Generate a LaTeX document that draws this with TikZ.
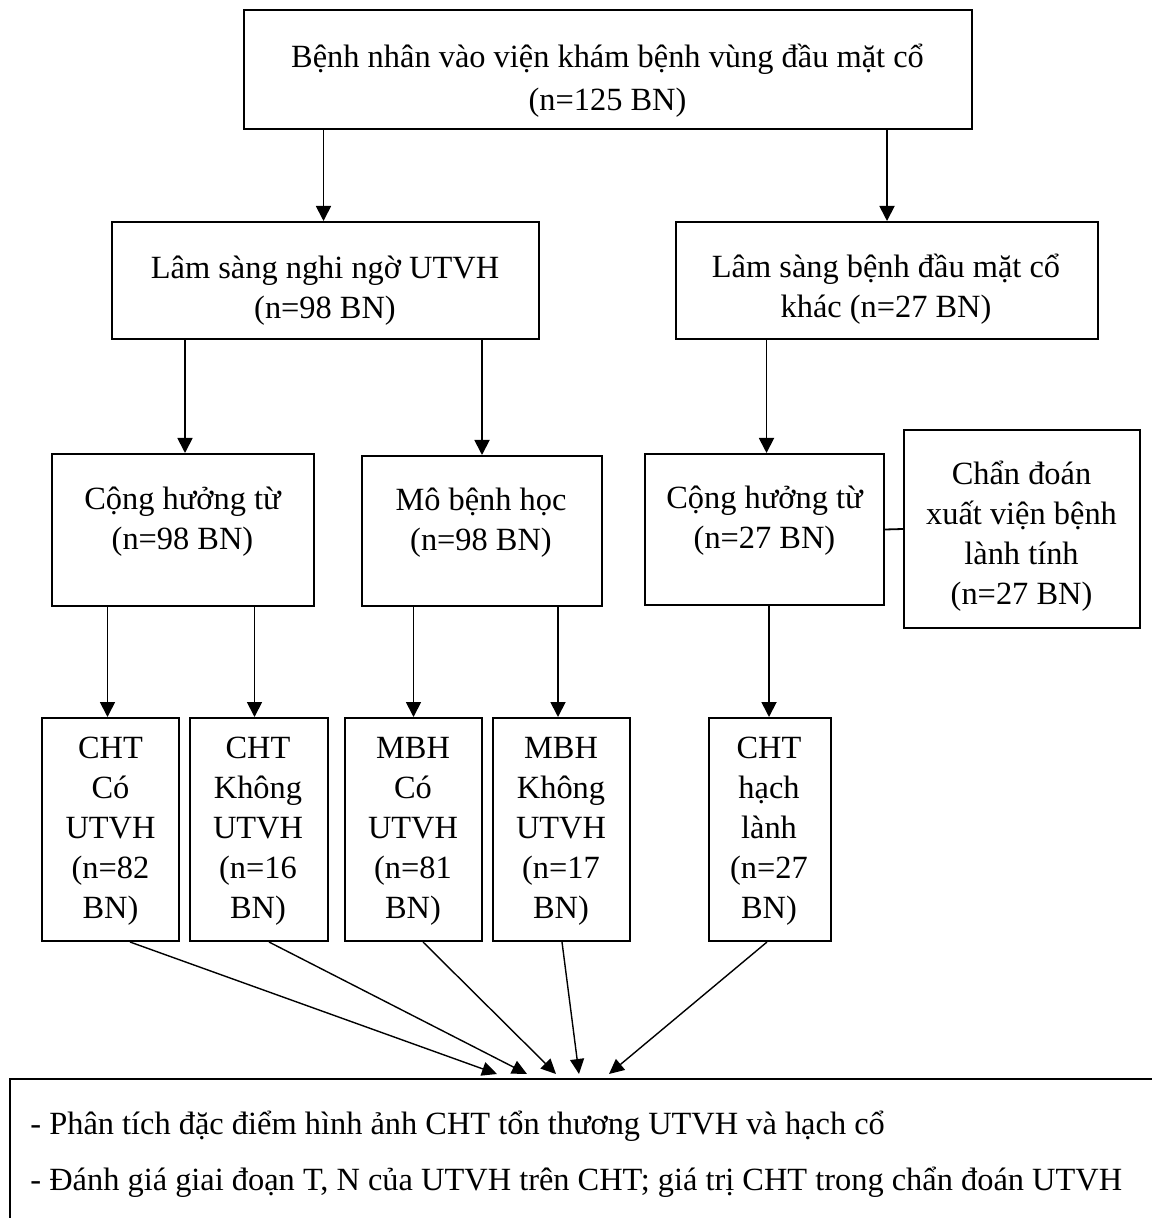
\documentclass[tikz,border=0pt]{standalone}
\usepackage{fontspec}
\setmainfont{Liberation Serif}
\usetikzlibrary{arrows.meta,calc}
\begin{document}
\begin{tikzpicture}[x=0.5pt,y=-0.5pt,
  box/.style={draw, line width=1pt, inner sep=0pt, rectangle},
  txt/.style={inner sep=0pt, align=center, anchor=north, font=\fontsize{16.2}{20}\selectfont},
  arr/.style={line width=0.9pt, -{Triangle[length=7.5pt,width=7.5pt]}},
  darr/.style={line width=0.7pt, -{Triangle[length=7.5pt,width=7pt]}}]
\useasboundingbox (0,0) rectangle (1151,1218);

% boxes
\node[box, minimum width=364pt, minimum height=59.5pt] (T) at (608,69.5) {};
\node[box, minimum width=213.5pt, minimum height=58.5pt] (L) at (325.5,280.5) {};
\node[box, minimum width=211pt, minimum height=58.5pt] (R) at (887,280.5) {};
\node[box, minimum width=131pt, minimum height=76pt] (C1) at (183,530) {};
\node[box, minimum width=120pt, minimum height=75pt] (C2) at (482,531) {};
\node[box, minimum width=119.5pt, minimum height=75.5pt] (C3) at (764.5,529.5) {};
\node[box, minimum width=118pt, minimum height=99pt] (D) at (1022,529) {};
\node[box, minimum width=68.5pt, minimum height=111.5pt] (E1) at (110.5,829.5) {};
\node[box, minimum width=69pt, minimum height=111.5pt] (E2) at (259,829.5) {};
\node[box, minimum width=68.5pt, minimum height=111.5pt] (E3) at (413.5,829.5) {};
\node[box, minimum width=68.5pt, minimum height=111.5pt] (E4) at (561.5,829.5) {};
\node[box, minimum width=61pt, minimum height=111.5pt] (E5) at (770,829.5) {};
\node[box, minimum width=580pt, minimum height=80.5pt] (B) at (590,1159.5) {};

% texts
\node[txt, font=\fontsize{16.2}{21.5}\selectfont] (tT) at (607.5,37) {\strut Bệnh nhân vào viện khám bệnh vùng đầu mặt cổ\\\strut (n=125 BN)};
\node[txt] (tL) at (325,250) {\strut Lâm sàng nghi ngờ UTVH\\\strut (n=98 BN)};
\node[txt] (tR) at (886,249) {\strut Lâm sàng bệnh đầu mặt cổ\\\strut khác (n=27 BN)};
\node[txt] (tC1) at (182.5,481) {\strut Cộng hưởng từ\\\strut (n=98 BN)};
\node[txt] (tC2) at (481,482) {\strut Mô bệnh học\\\strut (n=98 BN)};
\node[txt] (tC3) at (764.5,480) {\strut Cộng hưởng từ\\\strut (n=27 BN)};
\node[txt] (tD) at (1021.5,456) {\strut Chẩn đoán\\\strut xuất viện bệnh\\\strut lành tính\\\strut (n=27 BN)};
\node[txt] (tE1) at (110.5,730) {\strut CHT\\\strut Có\\\strut UTVH\\\strut (n=82\\\strut BN)};
\node[txt] (tE2) at (258,730) {\strut CHT\\\strut Không\\\strut UTVH\\\strut (n=16\\\strut BN)};
\node[txt] (tE3) at (413,730) {\strut MBH\\\strut Có\\\strut UTVH\\\strut (n=81\\\strut BN)};
\node[txt] (tE4) at (561,730) {\strut MBH\\\strut Không\\\strut UTVH\\\strut (n=17\\\strut BN)};
\node[txt] (tE5) at (769,730) {\strut CHT\\\strut hạch\\\strut lành\\\strut (n=27\\\strut BN)};
\node[txt, anchor=north west, align=left, font=\fontsize{16.2}{28}\selectfont] (tB) at (30,1095) {\strut - Phân tích đặc điểm hình ảnh CHT tổn thương UTVH và hạch cổ\\\strut - Đánh giá giai đoạn T, N của UTVH trên CHT; giá trị CHT trong chẩn đoán UTVH};

% vertical arrows
\draw[arr] ($(T.south -| L.north)+(-2,0)$) -- ($(L.north)+(-2,0)$);
\draw[arr] (T.south -| R.north) -- (R.north);
\draw[arr] ($(L.south -| C1.north)+(2,0)$) -- ($(C1.north)+(2,0)$);
\draw[arr] (L.south -| C2.north) -- (C2.north);
\draw[arr] ($(R.south -| C3.north)+(2,0)$) -- ($(C3.north)+(2,0)$);
\draw[arr] ($(C1.south -| E1.north)+(-3,0)$) -- ($(E1.north)+(-3,0)$);
\draw[arr] ($(C1.south -| E2.north)+(-4.5,0)$) -- ($(E2.north)+(-4.5,0)$);
\draw[arr] (C2.south -| E3.north) -- (E3.north);
\draw[arr] ($(C2.south -| E4.north)+(-3.5,0)$) -- ($(E4.north)+(-3.5,0)$);
\draw[arr] ($(C3.south -| E5.north)+(-1,0)$) -- ($(E5.north)+(-1,0)$);
\draw[line width=0.9pt] (C3.east) -- (D.west);

% converging arrows
\coordinate (p1) at (497,1074);
\coordinate (p2) at (527,1074);
\coordinate (p3) at (556,1074);
\coordinate (p4) at (579,1074);
\coordinate (p5) at (609,1074);
\draw[darr] ($(E1.south)+(19.5,0)$) -- (p1);
\draw[darr] ($(E2.south)+(10,0)$) -- (p2);
\draw[darr] ($(E3.south)+(9.5,0)$) -- (p3);
\draw[darr] ($(E4.south)+(0.5,0)$) -- (p4);
\draw[darr] ($(E5.south)+(-3,0)$) -- (p5);
\end{tikzpicture}
\end{document}
